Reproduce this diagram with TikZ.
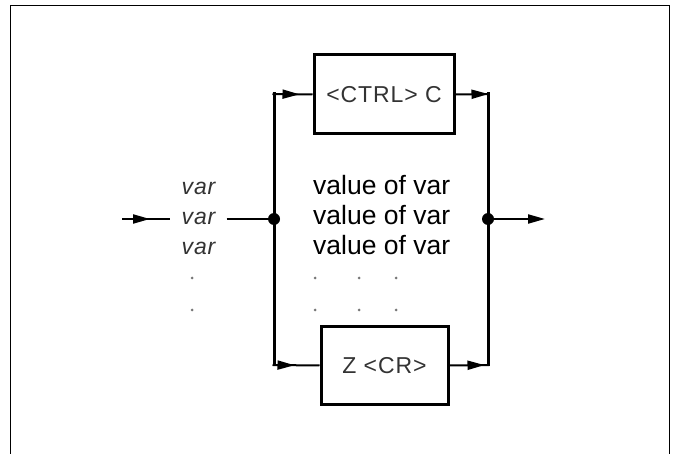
\documentclass[tikz,border=0pt]{standalone}
\usepackage{fontspec}
\setmainfont{Liberation Sans}
\newfontfamily\spacedfont[LetterSpace=4]{Liberation Sans}
\usetikzlibrary{arrows.meta,decorations.markings}
\definecolor{txtgray}{HTML}{333333}
\definecolor{dotgray}{HTML}{777777}
\tikzset{
  box/.style={draw, line width=3pt, minimum width=#1, inner sep=0pt, font=\spacedfont\fontsize{23}{23}\selectfont, text=txtgray},
  vline/.style={line width=3pt},
  conn/.style={line width=2pt},
  arrat/.style={postaction={decorate}, decoration={markings, mark=at position #1 with {\arrow{Triangle[length=17pt,width=9pt]}}}},
  jdot/.style={circle, fill=black, inner sep=0pt, minimum size=12pt},
  vartext/.style={font=\spacedfont\itshape\fontsize{23}{23}\selectfont, text=txtgray, text height=12pt, text depth=0pt, inner xsep=11pt, inner ysep=0pt},
  valtext/.style={font=\fontsize{26.5}{26.5}\selectfont, anchor=base west, inner sep=0pt},
  gdot/.style={circle, fill=dotgray, inner sep=0pt, minimum size=3pt},
}
\begin{document}
\begin{tikzpicture}[x=1pt,y=-1pt]
\useasboundingbox (0,0) rectangle (675,454);
\draw[line width=1.8pt] (10.5,454) -- (10.5,5.5) -- (669.5,5.5) -- (669.5,454);

\node[box, minimum width=140pt, minimum height=79pt] (ctrl) at (384,94.5) {<CTRL> C};
\node[box, minimum width=127pt, minimum height=77pt] (cr) at (384.5,365.5) {Z <CR>};

\coordinate (tl) at (274,94);
\coordinate (bl) at (274,365);
\coordinate (tr) at (488,94);
\coordinate (br) at (488,365);
\node[jdot] (jl) at (274,219) {};
\node[jdot] (jr) at (488,219) {};
\coordinate (in) at (122,219);
\coordinate (out) at (545,219);

\node[vartext] (v1) at (198.5,189) {var};
\node[vartext] (v2) at (198.5,219) {var};
\node[vartext] (v3) at (198.5,249) {var};
\node[gdot] (d1) at (192,278) {};
\node[gdot] (d2) at (192,310) {};

\node[valtext] (t1) at (313,195) {value of var};
\node[valtext] (t2) at (313,225) {value of var};
\node[valtext] (t3) at (313,255) {value of var};
\node[gdot] (e1) at (315,278) {};
\node[gdot] (e2) at (359,278) {};
\node[gdot] (e3) at (396,278) {};
\node[gdot] (f1) at (315,310) {};
\node[gdot] (f2) at (359,310) {};
\node[gdot] (f3) at (396,310) {};

\draw[vline] ([yshift=1.5pt]tl) -- ([yshift=-1.5pt]bl);
\draw[vline] ([yshift=1.5pt]tr) -- ([yshift=-1.5pt]br);
\draw[conn, arrat=27pt] ([xshift=-1.5pt]tl) -- (ctrl.west);
\draw[conn, arrat=33pt] (ctrl.east) -- ([xshift=1.5pt]tr);
\draw[conn, arrat=22pt] ([xshift=-1.5pt]bl) -- (cr.west);
\draw[conn, arrat=35pt] (cr.east) -- ([xshift=1.5pt]br);
\draw[conn, arrat=28pt] (in) -- (v2.west);
\draw[conn] (v2.east) -- (jl);
\draw[conn, -{Triangle[length=17pt,width=9pt]}] (jr) -- (out);
\end{tikzpicture}
\end{document}
